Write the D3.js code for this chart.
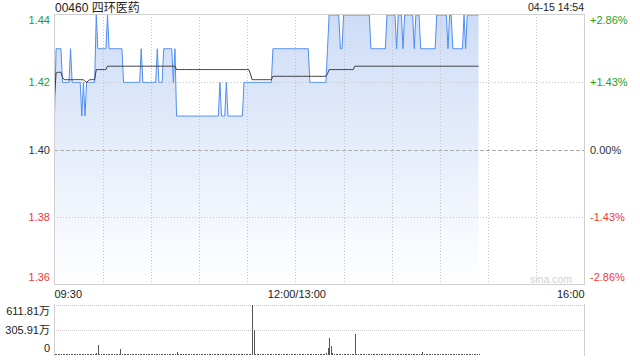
<!DOCTYPE html>
<html><head><meta charset="utf-8">
<script src="https://cdn.jsdelivr.net/npm/d3@7"></script>
<style>
html,body{margin:0;padding:0;background:#fff;}
svg{display:block;font-family:"Liberation Sans",Arial,"Noto Sans CJK SC",sans-serif;}
</style></head><body><svg id="c" width="640" height="360"></svg>
<script>
const title = "00460 四环医药";
const stamp = "04-15 14:54";
const prevClose = 1.40;
const priceTicks = [1.44, 1.42, 1.40, 1.38, 1.36];
const pctTicks = ["+2.86%", "+1.43%", "0.00%", "-1.43%", "-2.86%"];
const timeTicks = [0, 150, 330];
const timeLabels = ["09:30", "12:00/13:00", "16:00"];
const gridMinutes = [30, 60, 90, 120, 150, 180, 210, 240, 270, 300];
const volTicks = [611.81, 305.91, 0];
const volLabels = ["611.81万", "305.91万", "0"];

// minute-by-minute last price (09:30 ... 14:54)
const price = [
1.41,1.43,1.43,1.43,1.43,1.42,1.42,1.42,1.42,1.42,
1.43,1.42,1.42,1.42,1.42,1.42,1.42,1.41,1.42,1.41,
1.42,1.42,1.42,1.42,1.42,1.42,1.44,1.43,1.43,1.43,
1.43,1.43,1.43,1.44,1.43,1.43,1.43,1.43,1.43,1.43,
1.43,1.43,1.43,1.42,1.42,1.42,1.42,1.42,1.42,1.42,
1.42,1.42,1.42,1.42,1.43,1.42,1.42,1.42,1.42,1.42,
1.42,1.42,1.42,1.42,1.43,1.42,1.42,1.42,1.43,1.43,
1.43,1.43,1.43,1.43,1.42,1.43,1.41,1.41,1.41,1.41,
1.41,1.41,1.41,1.41,1.41,1.41,1.41,1.41,1.41,1.41,
1.41,1.41,1.41,1.41,1.41,1.41,1.41,1.41,1.41,1.41,
1.41,1.41,1.41,1.42,1.41,1.41,1.41,1.42,1.41,1.41,
1.41,1.41,1.41,1.41,1.41,1.41,1.41,1.41,1.42,1.42,
1.42,1.42,1.42,1.42,1.42,1.42,1.42,1.42,1.42,1.42,
1.42,1.42,1.42,1.42,1.42,1.42,1.43,1.43,1.43,1.43,
1.43,1.43,1.43,1.43,1.43,1.43,1.43,1.43,1.43,1.43,
1.43,1.43,1.43,1.43,1.43,1.43,1.43,1.43,1.43,1.42,
1.42,1.42,1.42,1.42,1.42,1.42,1.42,1.42,1.42,1.42,
1.43,1.44,1.44,1.44,1.44,1.44,1.44,1.44,1.43,1.43,
1.44,1.44,1.44,1.44,1.44,1.44,1.44,1.44,1.44,1.44,
1.44,1.44,1.44,1.44,1.44,1.44,1.44,1.43,1.43,1.43,
1.43,1.43,1.43,1.43,1.43,1.43,1.43,1.44,1.44,1.44,
1.44,1.44,1.44,1.43,1.44,1.44,1.44,1.43,1.44,1.44,
1.44,1.44,1.44,1.44,1.43,1.44,1.44,1.44,1.43,1.43,
1.43,1.43,1.43,1.43,1.43,1.43,1.43,1.43,1.44,1.44,
1.44,1.44,1.44,1.44,1.44,1.43,1.44,1.44,1.43,1.43,
1.43,1.43,1.43,1.43,1.43,1.44,1.43,1.44,1.44,1.44,
1.44,1.44,1.44,1.44,1.44
];

// minute-by-minute average price
const avg = [
1.4160,1.4228,1.4230,1.4230,1.4230,1.4215,1.4208,1.4208,1.4208,1.4208,
1.4208,1.4208,1.4208,1.4208,1.4208,1.4208,1.4208,1.4208,1.4208,1.4203,
1.4200,1.4205,1.4208,1.4208,1.4208,1.4208,1.4238,1.4238,1.4238,1.4238,
1.4238,1.4238,1.4238,1.4248,1.4248,1.4248,1.4248,1.4248,1.4248,1.4248,
1.4248,1.4248,1.4248,1.4248,1.4248,1.4248,1.4248,1.4248,1.4248,1.4248,
1.4248,1.4248,1.4248,1.4248,1.4248,1.4248,1.4248,1.4248,1.4248,1.4248,
1.4248,1.4248,1.4248,1.4248,1.4248,1.4248,1.4248,1.4248,1.4248,1.4248,
1.4248,1.4248,1.4248,1.4248,1.4248,1.4248,1.4238,1.4238,1.4238,1.4238,
1.4238,1.4238,1.4238,1.4238,1.4238,1.4238,1.4238,1.4238,1.4238,1.4238,
1.4238,1.4238,1.4238,1.4238,1.4238,1.4238,1.4238,1.4238,1.4238,1.4238,
1.4238,1.4238,1.4238,1.4238,1.4238,1.4238,1.4238,1.4238,1.4238,1.4238,
1.4238,1.4238,1.4238,1.4238,1.4238,1.4238,1.4238,1.4238,1.4238,1.4238,
1.4238,1.4238,1.4225,1.4208,1.4208,1.4208,1.4208,1.4208,1.4208,1.4208,
1.4208,1.4208,1.4208,1.4208,1.4208,1.4208,1.4218,1.4218,1.4218,1.4218,
1.4218,1.4218,1.4218,1.4218,1.4218,1.4218,1.4218,1.4218,1.4218,1.4218,
1.4218,1.4218,1.4218,1.4218,1.4218,1.4218,1.4218,1.4218,1.4218,1.4218,
1.4218,1.4218,1.4218,1.4218,1.4218,1.4218,1.4218,1.4218,1.4218,1.4218,
1.4226,1.4238,1.4238,1.4238,1.4238,1.4238,1.4238,1.4238,1.4238,1.4238,
1.4238,1.4238,1.4238,1.4238,1.4238,1.4238,1.4238,1.4248,1.4248,1.4248,
1.4248,1.4248,1.4248,1.4248,1.4248,1.4248,1.4248,1.4248,1.4248,1.4248,
1.4248,1.4248,1.4248,1.4248,1.4248,1.4248,1.4248,1.4248,1.4248,1.4248,
1.4248,1.4248,1.4248,1.4248,1.4248,1.4248,1.4248,1.4248,1.4248,1.4248,
1.4248,1.4248,1.4248,1.4248,1.4248,1.4248,1.4248,1.4248,1.4248,1.4248,
1.4248,1.4248,1.4248,1.4248,1.4248,1.4248,1.4248,1.4248,1.4248,1.4248,
1.4248,1.4248,1.4248,1.4248,1.4248,1.4248,1.4248,1.4248,1.4248,1.4248,
1.4248,1.4248,1.4248,1.4248,1.4248,1.4248,1.4248,1.4248,1.4248,1.4248,
1.4248,1.4248,1.4248,1.4248,1.4248
];

// minute volume (万)
const volume = [
18,6,9,12,5,8,4,10,6,7,
12,5,4,8,6,9,5,14,7,10,
6,5,4,7,5,8,30,120,12,6,
5,7,4,6,3,9,5,4,6,8,
5,72,10,7,4,5,6,3,8,5,
4,6,5,7,9,6,4,5,3,6,
5,4,6,3,8,5,4,6,9,5,
4,6,5,8,7,9,40,12,6,5,
4,6,3,5,4,7,5,3,6,4,
5,3,4,6,5,4,3,5,6,4,
5,4,8,10,5,4,6,9,4,5,
3,5,4,6,3,5,4,6,8,5,
6,5,8,611.81,300,9,6,5,7,4,
5,6,4,5,3,6,10,7,5,4,
6,5,4,3,5,6,4,5,3,8,
9,5,6,4,5,7,4,6,5,8,
5,4,6,5,7,4,5,6,15,25,
90,200,110,20,8,6,9,5,7,6,
8,6,5,7,4,6,5,255,9,6,
5,7,4,6,5,4,6,8,5,4,
6,5,4,7,5,6,4,8,5,6,
4,5,7,6,5,4,6,5,4,6,
5,4,6,5,7,4,5,6,8,40,
6,5,4,7,5,6,4,5,6,4,
5,6,4,5,7,4,6,5,4,5,
6,4,5,7,4,5,6,4,5,6,
4,5,6,4,8
];

const svg = d3.select("#c");
const L = 54, R = 584, T = 14, B = 284;
const VT = 304, VB = 355;
const green = "#1f9e1f", red = "#f03a3a", dark = "#333";

const x = d3.scaleLinear().domain([0, 330]).range([L + 0.5, R + 0.5]);
const y = d3.scaleLinear().domain([1.36, 1.44]).range([B + 0.5, T + 1]);
const yv = d3.scaleLinear().domain([0, 611.81]).range([VB, VT + 0.5]);

const defs = svg.append("defs");
const grad = defs.append("linearGradient").attr("id", "fillG")
  .attr("gradientUnits", "userSpaceOnUse")
  .attr("x1", 0).attr("y1", T).attr("x2", 0).attr("y2", B);
grad.append("stop").attr("offset", 0).attr("stop-color", "#cddcf7");
grad.append("stop").attr("offset", 1).attr("stop-color", "#ffffff");

const idx = d3.range(price.length);

// area
svg.append("path").datum(idx)
  .attr("d", d3.area().x(i => x(i)).y0(B).y1(i => y(price[i])))
  .attr("fill", "url(#fillG)");

// grid (on top of the fill)
const g = svg.append("g").attr("shape-rendering", "crispEdges");
g.selectAll("line.v").data(gridMinutes).join("line")
  .attr("x1", d => Math.round(x(d)) + 0.5).attr("x2", d => Math.round(x(d)) + 0.5)
  .attr("y1", T).attr("y2", B)
  .attr("stroke", "#c4c4c4").attr("stroke-dasharray", "1,2");
g.selectAll("line.h").data(priceTicks.filter(d => d !== 1.44 && d !== 1.36)).join("line")
  .attr("x1", L).attr("x2", R)
  .attr("y1", d => Math.round(y(d)) + 0.5).attr("y2", d => Math.round(y(d)) + 0.5)
  .attr("stroke", d => d === prevClose ? "#aaaaaa" : "#c4c4c4")
  .attr("stroke-dasharray", d => d === prevClose ? "4,2" : "1,2");

// lines
svg.append("path").datum(idx)
  .attr("d", d3.line().x(i => x(i)).y(i => y(price[i])))
  .attr("fill", "none").attr("stroke", "#4f8ef2").attr("stroke-width", 1);
svg.append("path").datum(idx)
  .attr("d", d3.line().x(i => x(i)).y(i => y(avg[i])))
  .attr("fill", "none").attr("stroke", "#3a3a3a").attr("stroke-width", 1);

// frame
const f = svg.append("g").attr("shape-rendering", "crispEdges").attr("stroke", "#cfcfcf").attr("fill", "none");
f.append("line").attr("x1", L + 0.5).attr("x2", L + 0.5).attr("y1", T).attr("y2", B + 1);
f.append("line").attr("x1", R + 0.5).attr("x2", R + 0.5).attr("y1", T).attr("y2", B + 1);
f.append("line").attr("x1", L).attr("x2", R + 1).attr("y1", T + 0.5).attr("y2", T + 0.5);
f.append("line").attr("x1", L).attr("x2", R + 1).attr("y1", B + 0.5).attr("y2", B + 0.5);

// watermark
svg.append("text").attr("x", 572).attr("y", 283).attr("text-anchor", "end")
  .attr("font-size", 10.5).attr("fill", "#d2d2d2").text("sina.com");

// price labels
const labY = v => Math.min(Math.max(y(v), T + 6), B - 7);
const colorOf = v => v > prevClose ? green : (v < prevClose ? red : dark);
svg.selectAll("text.pl").data(priceTicks).join("text")
  .attr("x", 50).attr("y", d => labY(d)).attr("dy", "0.35em")
  .attr("text-anchor", "end").attr("font-size", 11)
  .attr("fill", colorOf).text(d => d.toFixed(2));
svg.selectAll("text.pr").data(priceTicks).join("text")
  .attr("x", 590).attr("y", d => labY(d)).attr("dy", "0.35em")
  .attr("text-anchor", "start").attr("font-size", 11)
  .attr("fill", colorOf).text((d, i) => pctTicks[i]);

// title & stamp
svg.append("text").attr("x", L + 1).attr("y", 11.5).attr("font-size", 12).attr("fill", "#222").text(title);
svg.append("text").attr("x", R).attr("y", 11).attr("text-anchor", "end").attr("font-size", 10.5).attr("fill", "#222").text(stamp);

// time labels
svg.selectAll("text.t").data(timeTicks).join("text")
  .attr("x", (d, i) => i === 0 ? x(d) : (i === timeTicks.length - 1 ? x(d) : x(d) + 1.5))
  .attr("y", 297.5)
  .attr("text-anchor", (d, i) => i === 0 ? "start" : (i === timeTicks.length - 1 ? "end" : "middle"))
  .attr("font-size", 11).attr("fill", "#222").text((d, i) => timeLabels[i]);

// volume panel
const vg = svg.append("g").attr("shape-rendering", "crispEdges");
vg.selectAll("line.vh").data(volTicks.filter(d => d > 0)).join("line")
  .attr("x1", L).attr("x2", R)
  .attr("y1", d => Math.round(yv(d)) + 0.5).attr("y2", d => Math.round(yv(d)) + 0.5)
  .attr("stroke", "#c8c8c8").attr("stroke-dasharray", "1,1");
vg.append("line").attr("x1", L + 0.5).attr("x2", L + 0.5).attr("y1", VT).attr("y2", VB + 1).attr("stroke", "#cfcfcf");
vg.append("line").attr("x1", R + 0.5).attr("x2", R + 0.5).attr("y1", VT).attr("y2", VB + 1).attr("stroke", "#cfcfcf");
vg.selectAll("line.bar").data(idx).join("line")
  .attr("x1", i => Math.round(x(i)) + 0.5).attr("x2", i => Math.round(x(i)) + 0.5)
  .attr("y1", yv(0)).attr("y2", i => Math.min(yv(volume[i]), yv(0) - 1))
  .attr("stroke", "#555");
const vLabY = [311.5, 330, 348];
svg.selectAll("text.vl").data(volTicks).join("text")
  .attr("x", 50).attr("y", (d, i) => vLabY[i]).attr("dy", "0.35em")
  .attr("text-anchor", "end").attr("font-size", 11).attr("fill", "#222")
  .text((d, i) => volLabels[i]);
</script></body></html>
